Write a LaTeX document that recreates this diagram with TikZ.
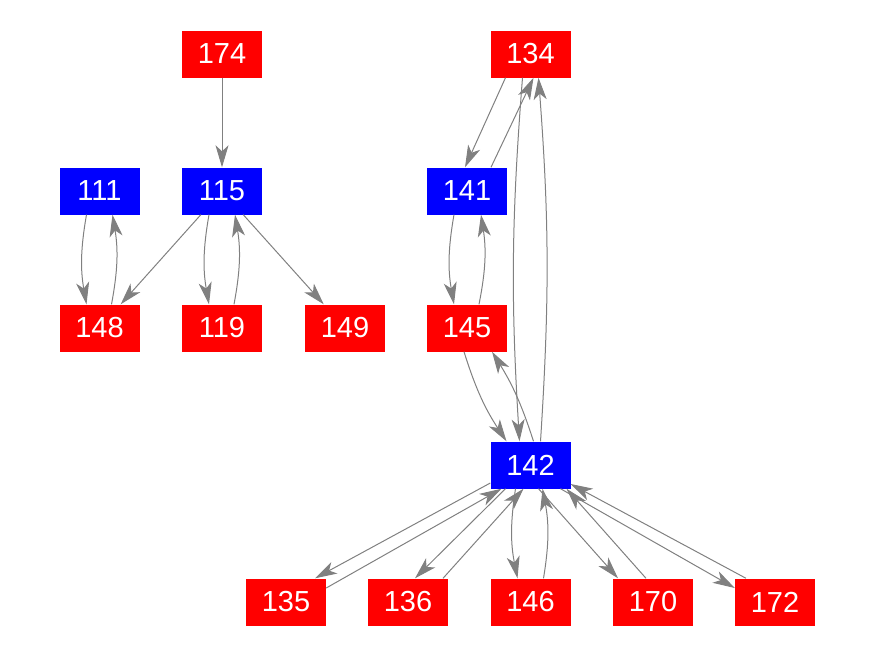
\documentclass[tikz,border=0pt]{standalone}
\usepackage{fontspec}
\setmainfont{Liberation Sans}
\usetikzlibrary{arrows.meta}
\definecolor{edgegray}{RGB}{128,128,128}
\tikzset{
  vbox/.style={minimum width=80pt, minimum height=47pt, inner sep=0pt, text=white, font=\fontsize{29pt}{31pt}\selectfont},
  rbox/.style={vbox, fill={rgb,255:red,255;green,0;blue,0}},
  bbox/.style={vbox, fill={rgb,255:red,0;green,0;blue,255}},
  e/.style={draw=edgegray, line width=1pt, -{Stealth[length=22pt, width=13pt, inset=6pt, fill=edgegray]}}
}
\begin{document}
\begin{tikzpicture}[x=1pt,y=1pt]
\useasboundingbox (0,-656) rectangle (875,0);
% nodes
\node[rbox] (n174) at (222,-54) {174};
\node[bbox] (n111) at (99.5,-191) {111};
\node[bbox] (n115) at (222,-191) {115};
\node[rbox] (n148) at (99.5,-328) {148};
\node[rbox] (n119) at (222,-328) {119};
\node[rbox] (n149) at (345,-328) {149};
\node[rbox] (n134) at (530.5,-54) {134};
\node[bbox] (n141) at (467,-191) {141};
\node[rbox] (n145) at (467,-328) {145};
\node[bbox] (n142) at (530.5,-465) {142};
\node[rbox] (n135) at (286,-602) {135};
\node[rbox] (n136) at (408,-602) {136};
\node[rbox] (n146) at (530.5,-602) {146};
\node[rbox] (n170) at (653,-602) {170};
\node[rbox] (n172) at (775,-602) {172};
% left cluster
\draw[e] (n174) -- (n115);
\draw[e] ([xshift=-13pt]n111.south) to[bend right=10] ([xshift=-13pt]n148.north);
\draw[e] ([xshift=12pt]n148.north) to[bend right=10] ([xshift=13pt]n111.south);
\draw[e] (n115) -- (n148);
\draw[e] ([xshift=-13pt]n115.south) to[bend right=10] ([xshift=-13pt]n119.north);
\draw[e] ([xshift=12pt]n119.north) to[bend right=10] ([xshift=13pt]n115.south);
\draw[e] (n115) -- (n149);
% right cluster
\draw[e] ([xshift=-25pt]n134.south) -- ([xshift=-2pt]n141.north);
\draw[e] ([xshift=24pt]n141.north) -- ([xshift=3pt]n134.south);
\draw[e] ([xshift=-8pt]n134.south) to[bend right=4] ([xshift=-11pt]n142.north);
\draw[e] ([xshift=10pt]n142.north) to[bend right=4] ([xshift=8pt]n134.south);
\draw[e] ([xshift=-13pt]n141.south) to[bend right=10] ([xshift=-13pt]n145.north);
\draw[e] ([xshift=12pt]n145.north) to[bend right=10] ([xshift=14pt]n141.south);
\draw[e] ([xshift=-3pt]n145.south) to[bend right=8] ([xshift=-24pt]n142.north);
\draw[e] ([xshift=3pt]n142.north) to[bend right=7] ([xshift=25pt]n145.south);
% bottom fan
\draw[e] ([yshift=-18pt]n142.west) -- ([xshift=29pt]n135.north);
\draw[e] ([yshift=14pt]n135.east) -- ([xshift=-29pt]n142.south);
\draw[e] ([xshift=-25pt]n142.south) -- ([xshift=7pt]n136.north);
\draw[e] ([xshift=35pt]n136.north) -- ([xshift=-7pt]n142.south);
\draw[e] ([xshift=-15pt]n142.south) to[bend right=10] ([xshift=-13pt]n146.north);
\draw[e] ([xshift=13pt]n146.north) to[bend right=10] ([xshift=12pt]n142.south);
\draw[e] ([xshift=8pt]n142.south) -- ([xshift=-35pt]n170.north);
\draw[e] ([xshift=-7pt]n170.north) -- ([xshift=36pt]n142.south);
\draw[e] ([xshift=30pt]n142.south) -- ([yshift=14pt]n172.west);
\draw[e] ([xshift=-29pt]n172.north) -- ([yshift=-19pt]n142.east);
\end{tikzpicture}
\end{document}
